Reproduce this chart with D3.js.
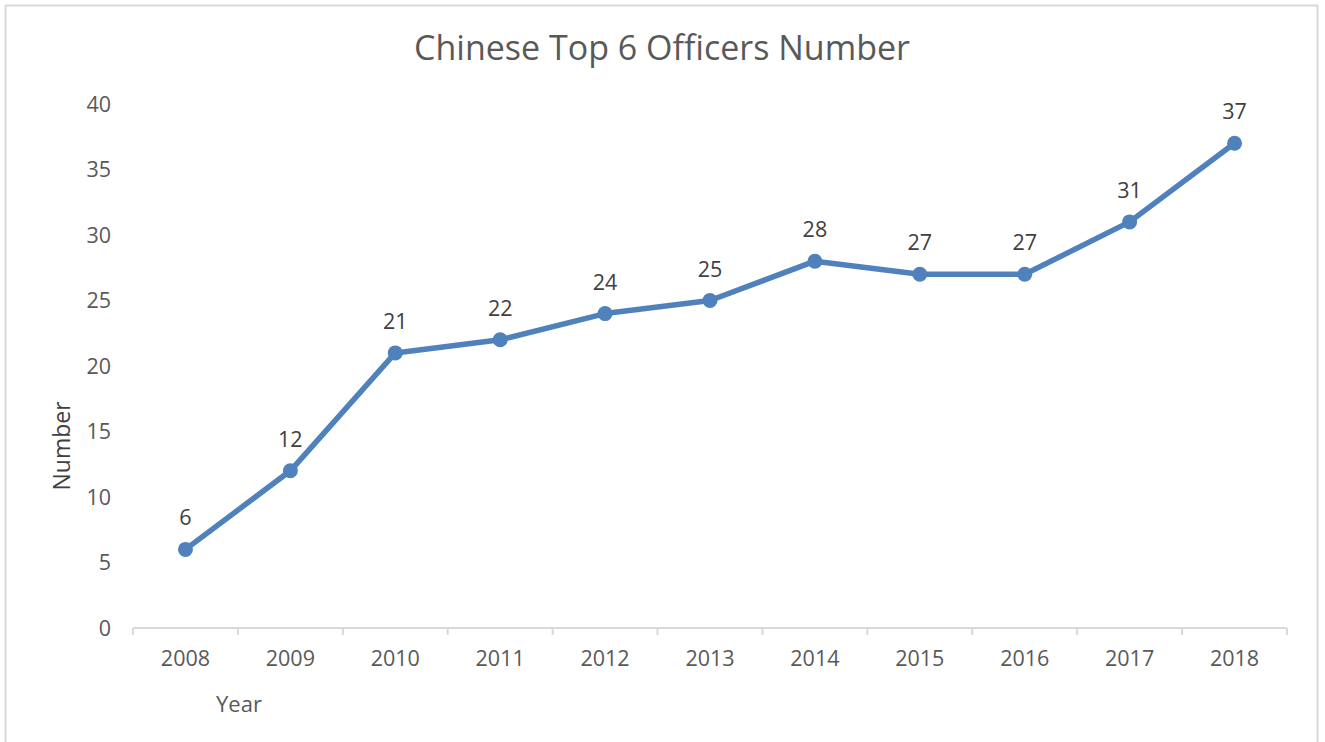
<!DOCTYPE html>
<html>
<head>
<meta charset="utf-8">
<script src="https://cdn.jsdelivr.net/npm/d3@7"></script>
<style>
  body { margin: 0; background: #fff; }
  text { font-family: "Open Sans", "Noto Sans", sans-serif; fill: #595959; }
</style>
</head>
<body>
<svg id="chart" width="1325" height="742"></svg>
<script>
// data
const years = ["2008", "2009", "2010", "2011", "2012", "2013", "2014", "2015", "2016", "2017", "2018"];
const officers = [6, 12, 21, 22, 24, 25, 28, 27, 27, 31, 37];
const yTicks = [0, 5, 10, 15, 20, 25, 30, 35, 40];

let svg = d3.select("#chart"),
    margin = {top: 104, right: 38, bottom: 114, left: 133},
    width = +svg.attr("width") - margin.left - margin.right,
    height = +svg.attr("height") - margin.top - margin.bottom;

// chart area border
svg.append("rect")
  .attr("x", 5.5).attr("y", 5.5)
  .attr("width", 1312).attr("height", 745)
  .attr("fill", "none")
  .attr("stroke", "#d9d9d9")
  .attr("stroke-width", 2);

let g = svg.append("g")
  .attr("transform", "translate(" + margin.left + "," + margin.top + ")");

let x = d3.scaleBand().domain(years).range([0, width]),
    y = d3.scaleLinear().domain([0, 40]).range([height, 0]);

// y labels only, no axis line
g.append("g")
  .selectAll("text")
  .data(yTicks)
  .enter().append("text")
  .attr("x", -22)
  .attr("y", d => y(d))
  .attr("dy", "0.35em")
  .attr("text-anchor", "end")
  .style("font-size", "21.5px")
  .text(d => d);

// x axis: line with ticks at category boundaries
let xa = g.append("g").attr("transform", "translate(0," + height + ")");
xa.append("line")
  .attr("x1", 0).attr("x2", width)
  .attr("stroke", "#d9d9d9").attr("stroke-width", 2);
xa.selectAll(".tk")
  .data(d3.range(years.length + 1))
  .enter().append("line")
  .attr("x1", i => i * x.step()).attr("x2", i => i * x.step())
  .attr("y1", 0).attr("y2", 7)
  .attr("stroke", "#d9d9d9").attr("stroke-width", 2);
xa.selectAll(".lbl")
  .data(years)
  .enter().append("text")
  .attr("x", d => x(d) + x.bandwidth() / 2)
  .attr("y", 38)
  .attr("text-anchor", "middle")
  .style("font-size", "21.5px")
  .text(d => d);

// line + markers
let pts = years.map((d, i) => ({year: d, value: officers[i]}));
let line = d3.line()
  .x(d => x(d.year) + x.bandwidth() / 2)
  .y(d => y(d.value));

g.append("path")
  .datum(pts)
  .attr("fill", "none")
  .attr("stroke", "#4f81bd")
  .attr("stroke-width", 5.5)
  .attr("stroke-linejoin", "round")
  .attr("d", line);

g.selectAll(".dot")
  .data(pts)
  .enter().append("circle")
  .attr("cx", d => x(d.year) + x.bandwidth() / 2)
  .attr("cy", d => y(d.value))
  .attr("r", 7.5)
  .attr("fill", "#4f81bd");

// data labels
g.selectAll(".val")
  .data(pts)
  .enter().append("text")
  .attr("x", d => x(d.year) + x.bandwidth() / 2)
  .attr("y", d => y(d.value) - 24)
  .attr("text-anchor", "middle")
  .style("font-size", "21.5px")
  .style("fill", "#404040")
  .text(d => d.value);

// title
svg.append("text")
  .attr("x", 662)
  .attr("y", 60)
  .attr("text-anchor", "middle")
  .style("font-size", "34px")
  .text("Chinese Top 6 Officers Number");

// axis titles
svg.append("text")
  .attr("transform", "translate(70,446) rotate(-90)")
  .attr("text-anchor", "middle")
  .style("font-size", "23px")
  .style("fill", "#404040")
  .text("Number");

svg.append("text")
  .attr("x", 239)
  .attr("y", 712)
  .attr("text-anchor", "middle")
  .style("font-size", "22px")
  .text("Year");
</script>
</body>
</html>
